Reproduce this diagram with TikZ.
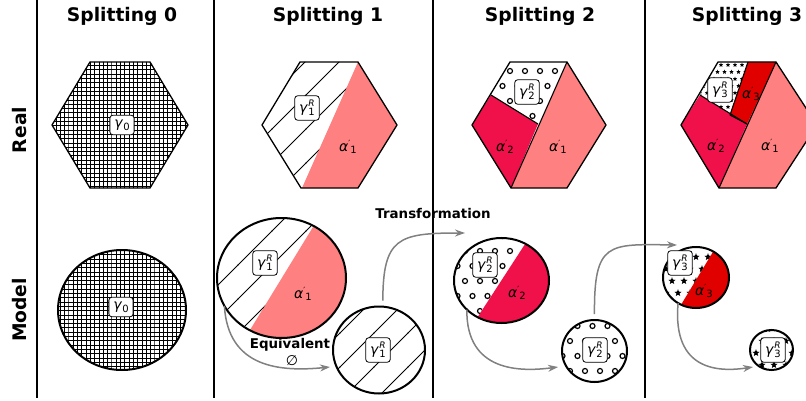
\documentclass[tikz,border=0pt]{standalone}
\usepackage{fontspec}
\setmainfont{DejaVu Sans}
\usetikzlibrary{shapes.geometric,arrows.meta,patterns}

\definecolor{pinkA}{RGB}{255,128,128}
\definecolor{crimB}{RGB}{240,16,74}
\definecolor{redC}{RGB}{224,0,0}
\definecolor{arrgray}{RGB}{128,128,128}

% grid hatch
\pgfdeclarepatternformonly{hgrid}{\pgfqpoint{-0.5pt}{-0.5pt}}{\pgfqpoint{4.3pt}{4.3pt}}{\pgfqpoint{4.3pt}{4.3pt}}{%
  \pgfsetlinewidth{0.8pt}%
  \pgfpathmoveto{\pgfqpoint{0pt}{-0.5pt}}\pgfpathlineto{\pgfqpoint{0pt}{4.4pt}}%
  \pgfpathmoveto{\pgfqpoint{-0.5pt}{0pt}}\pgfpathlineto{\pgfqpoint{4.4pt}{0pt}}%
  \pgfusepath{stroke}}
% north east lines, wide
\pgfdeclarepatternformonly{hne}{\pgfqpoint{-1pt}{-1pt}}{\pgfqpoint{35pt}{35pt}}{\pgfqpoint{34pt}{34pt}}{%
  \pgfsetlinewidth{1pt}%
  \pgfpathmoveto{\pgfqpoint{-0.5pt}{-0.5pt}}\pgfpathlineto{\pgfqpoint{34.5pt}{34.5pt}}%
  \pgfusepath{stroke}}
% open circles, staggered
\pgfdeclarepatternformonly{hdots}{\pgfqpoint{-3.6pt}{-3.6pt}}{\pgfqpoint{11.1pt}{18.6pt}}{\pgfqpoint{15pt}{30pt}}{%
  \pgfsetlinewidth{1.2pt}%
  \pgfpathcircle{\pgfqpoint{0pt}{0pt}}{2.5pt}%
  \pgfpathcircle{\pgfqpoint{7.5pt}{15pt}}{2.5pt}%
  \pgfusepath{stroke}}
% star helper
\newcommand{\mystarpath}[4]{%
  \pgfpathmoveto{\pgfpointadd{\pgfqpoint{#1}{#2}}{\pgfpointpolar{90}{#3}}}%
  \pgfpathlineto{\pgfpointadd{\pgfqpoint{#1}{#2}}{\pgfpointpolar{126}{#4}}}%
  \pgfpathlineto{\pgfpointadd{\pgfqpoint{#1}{#2}}{\pgfpointpolar{162}{#3}}}%
  \pgfpathlineto{\pgfpointadd{\pgfqpoint{#1}{#2}}{\pgfpointpolar{198}{#4}}}%
  \pgfpathlineto{\pgfpointadd{\pgfqpoint{#1}{#2}}{\pgfpointpolar{234}{#3}}}%
  \pgfpathlineto{\pgfpointadd{\pgfqpoint{#1}{#2}}{\pgfpointpolar{270}{#4}}}%
  \pgfpathlineto{\pgfpointadd{\pgfqpoint{#1}{#2}}{\pgfpointpolar{306}{#3}}}%
  \pgfpathlineto{\pgfpointadd{\pgfqpoint{#1}{#2}}{\pgfpointpolar{342}{#4}}}%
  \pgfpathlineto{\pgfpointadd{\pgfqpoint{#1}{#2}}{\pgfpointpolar{18}{#3}}}%
  \pgfpathlineto{\pgfpointadd{\pgfqpoint{#1}{#2}}{\pgfpointpolar{54}{#4}}}%
  \pgfpathclose}
\pgfdeclarepatternformonly{hstarS}{\pgfqpoint{-2.4pt}{-2.4pt}}{\pgfqpoint{5.9pt}{9.4pt}}{\pgfqpoint{7pt}{14pt}}{%
  \mystarpath{0pt}{0pt}{2.3pt}{1.0pt}%
  \mystarpath{3.5pt}{7pt}{2.3pt}{1.0pt}%
  \pgfusepath{fill}}
\pgfdeclarepatternformonly{hstarL}{\pgfqpoint{-4pt}{-4pt}}{\pgfqpoint{10pt}{16pt}}{\pgfqpoint{12pt}{24pt}}{%
  \mystarpath{0pt}{0pt}{3.8pt}{1.6pt}%
  \mystarpath{6pt}{12pt}{3.8pt}{1.6pt}%
  \pgfusepath{fill}}

\newcommand{\gR}[1]{\textit{γ}\kern0.3pt\makebox[0pt][l]{\raisebox{6pt}{\fontsize{9}{9}\selectfont\itshape R}}\raisebox{-2.7pt}{\fontsize{10}{10}\selectfont #1}}
\newcommand{\aP}[1]{\textit{α}\raisebox{5pt}{\fontsize{8.5}{9}\selectfont\char"2032}\raisebox{-2.7pt}{\fontsize{10}{10}\selectfont #1}}
\newcommand{\gZ}{\textit{γ}\raisebox{-2.7pt}{\fontsize{10}{10}\selectfont 0}}

\tikzset{
  hexline/.style={line width=1.3pt, line join=round},
  regline/.style={line width=1.1pt, line join=round},
  circline/.style={ellipse, draw, line width=2pt, inner sep=0pt, outer sep=0pt},
  labbox/.style={draw, fill=white, rounded corners=3pt, line width=0.8pt, inner xsep=4.5pt, inner ysep=4.5pt, font=\fontsize{14}{15}\selectfont},
  plainlab/.style={inner sep=0pt, font=\fontsize{14}{15}\selectfont},
  header/.style={inner sep=0pt, font=\fontsize{18.7}{22}\selectfont\bfseries},
  smallbold/.style={inner sep=0pt, font=\fontsize{13.4}{16}\selectfont\bfseries},
  flow/.style={draw=arrgray, line width=1.5pt, -{Stealth[length=10pt,width=7pt]}},
}

\begin{document}
\begin{tikzpicture}[x=1pt,y=-1pt]
\useasboundingbox (0,0) rectangle (806,401);
\clip (0,0) rectangle (806,401);

% separators
\foreach \xx in {37,214,433,645} \draw[line width=1.6pt] (\xx,0) -- (\xx,398);

% headers
\node[header] (h0) at (122,16) {Splitting 0};
\node[header] (h1) at (328,16) {Splitting 1};
\node[header] (h2) at (540,16) {Splitting 2};
\node[header] (h3) at (747,16) {Splitting 3};
\node[header, rotate=90] (real) at (20,130) {Real};
\node[header, rotate=90] (model) at (20,310) {Model};

% ---------- Hexagon 0
\fill[pattern=hgrid] (90,62) -- (150,62) -- (188,125) -- (150,188) -- (90,188) -- (52,125) -- cycle;
\draw[hexline] (90,62) -- (150,62) -- (188,125) -- (150,188) -- (90,188) -- (52,125) -- cycle;
\node[labbox] (hg0) at (122,125) {\gZ};

% ---------- Hexagon 1
\fill[pinkA] (358,62) -- (397,125) -- (358,188) -- (302,188) -- cycle;
\fill[pattern=hne] (300,62) -- (358,62) -- (302,188) -- (301,188) -- (262,125) -- cycle;
\draw[hexline] (300,62) -- (358,62) -- (397,125) -- (358,188) -- (301,188) -- (262,125) -- cycle;
\node[labbox] (hg1) at (307,108) {\gR{1}};
\node[plainlab] (ha1) at (348,147) {\aP{1}};

% ---------- Hexagon 2
\fill[pinkA] (567,62) -- (606,125) -- (567,188) -- (511,188) -- cycle;
\fill[crimB] (472,125) -- (491,95) -- (538,124) -- (511,188) -- cycle;
\fill[pattern=hdots] (510,62) -- (567,62) -- (538,124) -- (491,95) -- cycle;
\draw[regline] (567,62) -- (511,188);
\draw[regline] (491,95) -- (538,124);
\draw[hexline] (510,62) -- (567,62) -- (606,125) -- (567,188) -- (511,188) -- (472,125) -- cycle;
\node[labbox] (hg2) at (527,92) {\gR{2}};
\node[plainlab] (ha22) at (505,147) {\aP{2}};
\node[plainlab] (ha21) at (558,147) {\aP{1}};

% ---------- Hexagon 3
\fill[pinkA] (776,62) -- (817,125) -- (776,188) -- (719,188) -- (747,124) -- cycle;
\fill[crimB] (681,125) -- (700,95) -- (747,124) -- (719,188) -- cycle;
\fill[redC] (748,62) -- (776,62) -- (747,124) -- (730,115) -- cycle;
\fill[pattern=hstarS] (718,62) -- (748,62) -- (730,115) -- (700,95) -- cycle;
\draw[regline] (776,62) -- (719,188);
\draw[regline] (700,95) -- (747,124);
\draw[regline] (748,62) -- (730,115) -- (747,124);
\draw[hexline] (718,62) -- (776,62) -- (817,125) -- (776,188) -- (719,188) -- (681,125) -- cycle;
\node[labbox] (hg3) at (720,90) {\gR{3}};
\node[plainlab] (ha33) at (751,94) {\aP{3}};
\node[plainlab] (ha32) at (716,146) {\aP{2}};
\node[plainlab] (ha31) at (770,146) {\aP{1}};

% ---------- Model circle 0
\fill[pattern=hgrid] (122,310) ellipse [x radius=64pt, y radius=60pt];
\node[circline, minimum width=128pt, minimum height=120pt] (c0) at (122,310) {};
\node[labbox] (cg0) at (121,307) {\gZ};

% ---------- Circle 1 big
\begin{scope}
\clip (281.5,278) ellipse [x radius=64.5pt, y radius=60pt];
\fill[pinkA] (344.5,175.5) -- (218.5,381.5) -- (400,381.5) -- (400,175.5) -- cycle;
\fill[pattern=hne] (344.5,175.5) -- (218.5,381.5) -- (200,381.5) -- (200,175.5) -- cycle;
\end{scope}
\node[circline, minimum width=129pt, minimum height=120pt] (c1big) at (281.5,278) {};
\node[labbox] (cg1) at (265,263) {\gR{1}};
\node[plainlab] (ca1) at (303,294) {\aP{1}};

% ---------- Circle 1 small
\fill[pattern=hne] (379,350) ellipse [x radius=46pt, y radius=43.5pt];
\node[circline, minimum width=92pt, minimum height=87pt] (c1small) at (379,350) {};
\node[labbox] (cs1) at (378,350) {\gR{1}};

% ---------- Circle 2 big
\begin{scope}
\clip (501.5,280.5) ellipse [x radius=47.5pt, y radius=42.5pt];
\fill[crimB] (553,201) -- (453,355) -- (560,355) -- (560,201) -- cycle;
\fill[pattern=hdots] (553,201) -- (453,355) -- (440,355) -- (440,201) -- cycle;
\end{scope}
\node[circline, minimum width=95pt, minimum height=85pt] (c2big) at (501.5,280.5) {};
\node[labbox] (cg2) at (485,265) {\gR{2}};
\node[plainlab] (ca2) at (517,293) {\aP{2}};

% ---------- Circle 2 small
\fill[pattern=hdots] (594.5,351) ellipse [x radius=32.5pt, y radius=31pt];
\node[circline, minimum width=65pt, minimum height=62pt] (c2small) at (594.5,351) {};
\node[labbox] (cs2) at (595,350) {\gR{2}};

% ---------- Circle 3 big
\begin{scope}
\clip (696,277.5) ellipse [x radius=33pt, y radius=30.5pt];
\fill[redC] (728,227) -- (664,333) -- (740,333) -- (740,227) -- cycle;
\fill[pattern=hstarL] (728,227) -- (664,333) -- (650,333) -- (650,227) -- cycle;
\end{scope}
\node[circline, minimum width=66pt, minimum height=61pt] (c3big) at (696,277.5) {};
\node[labbox] (cg3) at (680,263) {\gR{3}};
\node[plainlab] (ca3) at (704,291) {\aP{3}};

% ---------- Circle 3 small
\fill[pattern=hstarL] (771.5,350) ellipse [x radius=21.5pt, y radius=20pt];
\node[circline, minimum width=43pt, minimum height=40pt] (c3small) at (771.5,350) {};
\node[labbox] (cs3) at (773,350) {\gR{3}};

% ---------- texts
\node[smallbold] (transf) at (433,214) {Transformation};
\node[smallbold] (equiv) at (290,345) {Equivalent};
\node[plainlab] (empty) at (292,361) {∅};

% ---------- arrows
\coordinate (e1) at (330,367);
\coordinate (e2) at (465,233);
\coordinate (e3) at (558,367);
\coordinate (e4) at (677,245);
\coordinate (e5) at (753,367);
\draw[flow] (c1big.206) .. controls (228,368) and (280,372) .. (e1);
\draw[flow, shorten <=6pt] (c1small.85) .. controls (383,238) and (398,233) .. (e2);
\draw[flow] (c2big.220) .. controls (466,372) and (520,372) .. (e3);
\draw[flow, shorten <=6pt] (c2small.90) .. controls (594,242) and (608,244) .. (e4);
\draw[flow] (c3big.235) .. controls (672,372) and (720,372) .. (e5);
\end{tikzpicture}
\end{document}
